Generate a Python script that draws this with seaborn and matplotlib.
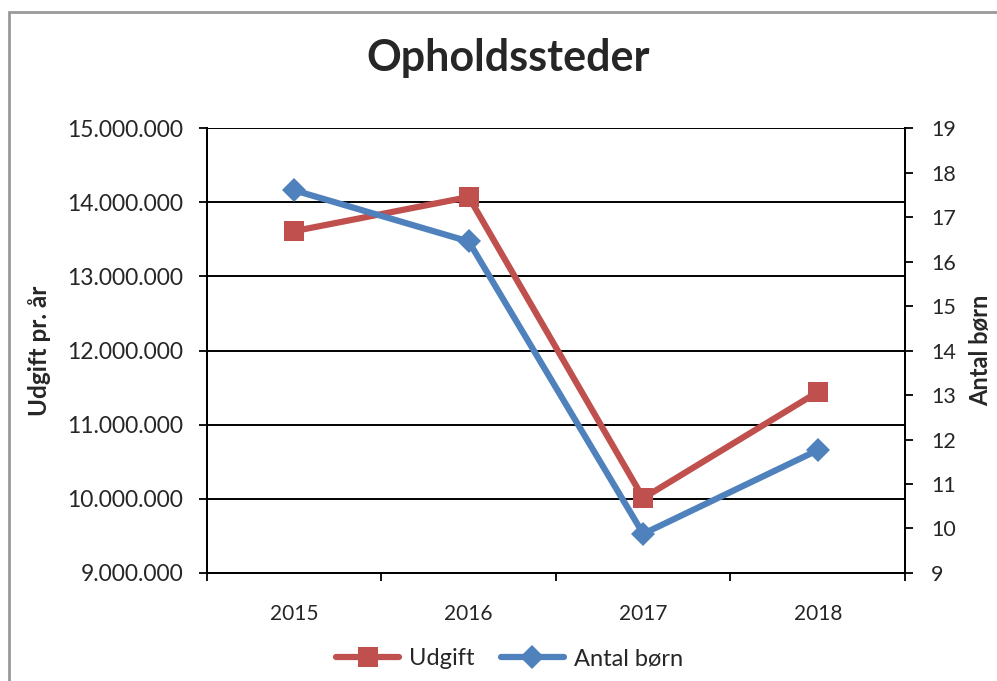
import matplotlib
matplotlib.use("Agg")
import matplotlib.pyplot as plt
import seaborn as sns
import pandas as pd
from matplotlib.lines import Line2D
from matplotlib.ticker import FuncFormatter, MultipleLocator

years = ["2015", "2016", "2017", "2018"]
udgift = [13610000, 14070000, 10010000, 11440000]
antal_born = [17.6, 16.45, 9.88, 11.76]

RED = "#C0504D"
BLUE = "#4F81BD"
FONT = "Lato"

sns.set_style("white")
plt.rcParams["font.family"] = [FONT, "DejaVu Sans"]

df = pd.DataFrame({"year": years, "udgift": udgift, "antal": antal_born})
df["x"] = range(len(years))

fig = plt.figure(figsize=(9.97, 6.81), dpi=100)
ax = fig.add_axes([0.2076, 0.1586, 0.7001, 0.6534])
ax2 = ax.twinx()

sns.lineplot(data=df, x="x", y="udgift", ax=ax, color=RED, linewidth=4.5,
             marker="s", markersize=14, markeredgewidth=0, zorder=3)
sns.lineplot(data=df, x="x", y="antal", ax=ax2, color=BLUE, linewidth=4.5,
             marker="D", markersize=12, markeredgewidth=0, zorder=3)

ax.set_xlim(-0.5, 3.5)
ax.set_ylim(9000000, 15000000)
ax2.set_ylim(9, 19)
ax.yaxis.set_major_locator(MultipleLocator(1000000))
ax2.yaxis.set_major_locator(MultipleLocator(1))
ax.yaxis.set_major_formatter(FuncFormatter(lambda v, p: f"{int(v):,}".replace(",", ".")))

ax.set_xticks([-0.5, 0.5, 1.5, 2.5, 3.5])
ax.set_xticklabels([])
ax.set_xticks(df["x"], minor=True)
ax.set_xticklabels(years, minor=True)
ax.tick_params(axis="x", which="major", direction="out", length=6, width=1.3,
               color="black", bottom=True)
ax.tick_params(axis="x", which="minor", length=0, labelsize=15, pad=22)
ax.tick_params(axis="y", direction="out", length=6, width=1.3, color="black",
               left=True, labelsize=16.5, pad=11)
ax2.tick_params(axis="y", direction="out", length=6, width=1.3, color="black",
                right=True, labelsize=15.5, pad=13)

ax.grid(axis="y", color="black", linewidth=1.4)
ax.set_axisbelow(True)
for a in (ax, ax2):
    a.spines["top"].set_visible(False)
    for s in ("left", "right", "bottom"):
        a.spines[s].set_color("black")
        a.spines[s].set_linewidth(1.4)

ax.set_xlabel("")
ax.set_ylabel("Udgift pr. år", fontsize=17.5, fontweight="bold")
ax.yaxis.set_label_coords(-0.224, 0.5)
ax2.set_ylabel("Antal børn", fontsize=17, fontweight="bold")
ax2.yaxis.set_label_coords(1.092, 0.5)

fig.text(0.5095, 0.915, "Opholdssteder", ha="center", va="center",
         fontsize=31, fontweight="bold")

handles = [
    Line2D([], [], color=RED, linewidth=4.5, marker="s", markersize=14, markeredgewidth=0),
    Line2D([], [], color=BLUE, linewidth=4.5, marker="D", markersize=12, markeredgewidth=0),
]
fig.legend(handles, ["Udgift", "Antal børn"], loc="center", bbox_to_anchor=(0.511, 0.033),
           ncol=2, frameon=False, fontsize=17, handlelength=2.67, columnspacing=1.1,
           handletextpad=0.42)

fig.add_artist(plt.Rectangle((9 / 997, -0.1), 1.2, 1.1 - 12 / 681,
                             transform=fig.transFigure, fill=False,
                             edgecolor="#999999", linewidth=2))

fig.savefig("out.png", dpi=100)
